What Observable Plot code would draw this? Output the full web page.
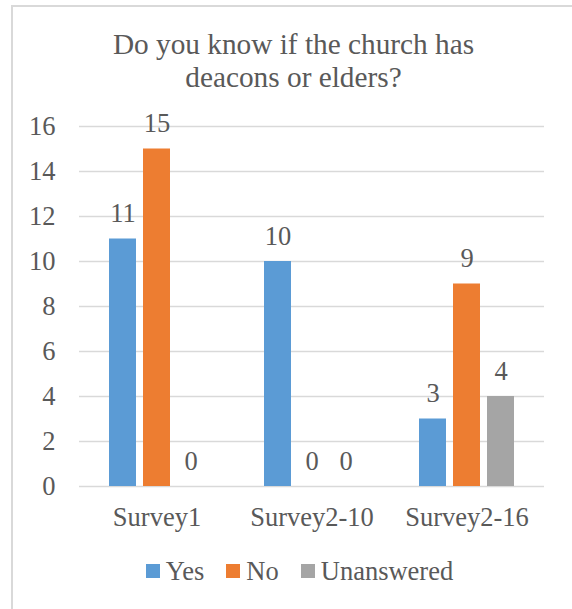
<!DOCTYPE html>
<html>
<head>
<meta charset="utf-8">
<script src="https://cdn.jsdelivr.net/npm/d3@7"></script>
<script src="https://cdn.jsdelivr.net/npm/@observablehq/plot@0.6"></script>
<style>
html body#b, html body#b * { font-family: 'Liberation Serif', serif !important; }
</style>
</head>
<body id="b" style="margin:0;padding:0;background:#fff;width:572px;height:609px;overflow:hidden;position:relative;font-family:'Liberation Serif';color:#595959">
<div id="frame" style="position:absolute;left:11px;top:5px;width:640px;height:700px;border:2px solid #d9d9d9;box-sizing:border-box"></div>
<div id="title" style="position:absolute;left:0;top:27.6px;width:587px;text-align:center;font-size:29.3px;line-height:33.5px;color:#595959">Do you know if the church has<br>deacons or elders?</div>
<div id="chart" style="position:absolute;left:0;top:100px"></div>
<div id="legend" style="position:absolute;left:0;top:556px;width:599px;display:flex;justify-content:center;font-size:26.5px;line-height:30px;white-space:nowrap;color:#595959"></div>
<script>
const categories = ["Survey1", "Survey2-10", "Survey2-16"];
const series = ["Yes", "No", "Unanswered"];
const yesValues = [11, 10, 3];
const noValues = [15, 0, 9];
const unansweredValues = [0, 0, 4];
const yTicks = [0, 2, 4, 6, 8, 10, 12, 14, 16];
const colors = ["#5b9bd5", "#ed7d31", "#a5a5a5"];

const seriesValues = [yesValues, noValues, unansweredValues];
const rows = [];
categories.forEach((c, i) => {
  series.forEach((s, j) => rows.push({category: c, series: s, value: seriesValues[j][i]}));
});

const FONT = "'Liberation Serif', serif";

const chart = Plot.plot({
  width: 572,
  height: 450,
  marginTop: 26,
  marginBottom: 64,
  marginLeft: 79,
  marginRight: 28,
  style: {fontFamily: FONT, fontSize: "26.5px", color: "#595959", background: "transparent", overflow: "visible"},
  fx: {domain: categories, padding: 0, axis: "bottom", tickSize: 0, tickPadding: 21, label: null},
  x: {domain: series, paddingInner: 0.206, paddingOuter: 0.882, axis: null},
  y: {domain: [0, 16], ticks: yTicks, tickSize: 0, tickPadding: 24, label: null},
  color: {domain: series, range: colors},
  marks: [
    Plot.ruleY(yTicks, {stroke: "#d9d9d9", strokeWidth: 1.6}),
    Plot.barY(rows, {fx: "category", x: "series", y: "value", fill: "series"}),
    Plot.text(rows, {fx: "category", x: "series", y: "value", text: d => String(d.value),
      dy: -25, fontSize: 26.5, fill: "#595959"})
  ]
});
document.getElementById("chart").appendChild(chart);

const legend = document.getElementById("legend");
series.forEach((s, i) => {
  const item = document.createElement("span");
  item.style.cssText = "margin:0 11px";
  const sw = document.createElement("span");
  sw.style.cssText = "display:inline-block;width:14px;height:14px;margin-right:6px;vertical-align:2px;background:" + colors[i];
  item.appendChild(sw);
  item.appendChild(document.createTextNode(s));
  legend.appendChild(item);
});
</script>
</body>
</html>
